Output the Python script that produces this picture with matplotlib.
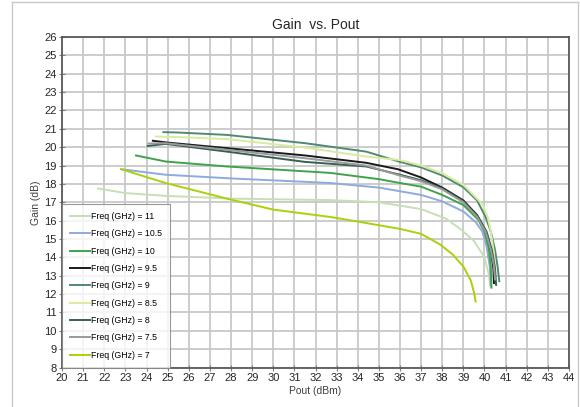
import matplotlib
matplotlib.use("Agg")
import matplotlib.pyplot as plt
from matplotlib.lines import Line2D

plt.rcParams['font.family'] = ['Liberation Sans', 'DejaVu Sans']

# Pout (dBm) / Gain (dB) for each frequency
pout_11 = [21.7, 23.0, 24.9, 28.0, 32.7, 35.0, 37.0, 38.2, 38.9, 39.5, 40.0, 40.2, 40.28]
gain_11 = [17.75, 17.5, 17.35, 17.2, 17.12, 17.0, 16.63, 16.1, 15.5, 14.9, 14.0, 13.1, 12.4]

pout_105 = [22.8, 24.9, 28.0, 32.7, 35.0, 36.0, 37.0, 38.0, 39.0, 39.6, 39.9, 40.1, 40.25, 40.3]
gain_105 = [18.8, 18.5, 18.3, 18.05, 17.8, 17.6, 17.4, 17.05, 16.5, 15.9, 15.4, 14.6, 13.5, 12.5]

pout_10 = [23.5, 24.9, 27.8, 32.7, 35.0, 36.0, 37.0, 38.0, 39.0, 39.7, 40.0, 40.2, 40.3, 40.33]
gain_10 = [19.55, 19.22, 18.95, 18.6, 18.26, 18.05, 17.85, 17.4, 16.85, 16.05, 15.4, 14.5, 13.5, 12.35]

pout_95 = [24.3, 25.0, 27.8, 31.5, 34.4, 35.9, 37.0, 38.0, 39.0, 39.65, 40.05, 40.3, 40.42, 40.45]
gain_95 = [20.35, 20.25, 19.95, 19.55, 19.15, 18.8, 18.35, 17.8, 17.1, 16.3, 15.45, 14.4, 13.4, 12.6]

pout_9 = [24.8, 25.5, 27.8, 31.5, 34.4, 36.0, 37.0, 38.0, 39.0, 39.65, 40.05, 40.3, 40.5, 40.62, 40.7]
gain_9 = [20.82, 20.8, 20.67, 20.22, 19.76, 19.2, 18.9, 18.46, 17.82, 17.1, 16.2, 15.4, 14.4, 13.5, 12.7]

pout_85 = [24.45, 25.5, 27.8, 31.5, 34.4, 36.0, 37.0, 38.0, 39.0, 39.55, 39.9, 40.15, 40.3, 40.45, 40.5]
gain_85 = [20.58, 20.55, 20.44, 19.98, 19.49, 19.3, 19.0, 18.58, 17.95, 17.3, 16.9, 16.2, 15.4, 14.2, 13.0]

pout_8 = [24.06, 24.9, 27.8, 31.5, 34.4, 36.0, 37.0, 38.0, 39.0, 39.7, 40.1, 40.35, 40.5, 40.55]
gain_8 = [20.07, 20.18, 19.76, 19.2, 18.95, 18.5, 18.2, 17.75, 17.05, 16.2, 15.4, 14.4, 13.4, 12.5]

pout_75 = [24.1, 24.9, 27.8, 31.5, 34.4, 36.0, 37.0, 38.0, 39.0, 39.65, 40.05, 40.3, 40.45, 40.5]
gain_75 = [20.2, 20.22, 19.86, 19.4, 19.0, 18.45, 18.15, 17.7, 17.0, 16.2, 15.4, 14.4, 13.5, 12.8]

pout_7 = [22.8, 24.9, 27.8, 30.0, 32.7, 34.0, 36.0, 37.0, 37.9, 38.5, 39.0, 39.35, 39.5, 39.58]
gain_7 = [18.8, 18.05, 17.2, 16.6, 16.2, 15.95, 15.55, 15.28, 14.7, 14.15, 13.5, 12.75, 12.1, 11.6]

labels = ["Freq (GHz) = 11", "Freq (GHz) = 10.5", "Freq (GHz) = 10",
          "Freq (GHz) = 9.5", "Freq (GHz) = 9", "Freq (GHz) = 8.5",
          "Freq (GHz) = 8", "Freq (GHz) = 7.5", "Freq (GHz) = 7"]
colors = ["#c5e0b4", "#8faadc", "#3fa34d", "#1a1a1a", "#4f8a72",
          "#d9ec9c", "#385f55", "#9a9a9a", "#a8d20a"]

xs = [pout_11, pout_105, pout_10, pout_95, pout_9, pout_85, pout_8, pout_75, pout_7]
ys = [gain_11, gain_105, gain_10, gain_95, gain_9, gain_85, gain_8, gain_75, gain_7]

fig = plt.figure(figsize=(5.8, 4.07), dpi=100)
ax = fig.add_axes([0.107, 0.097, 0.874, 0.812])

for x, y, c, lab in zip(xs, ys, colors, labels):
    ax.plot(x, y, color=c, lw=1.4, label=lab, solid_joinstyle="round")

ax.set_xlim(20, 44)
ax.set_ylim(8, 26)
ax.set_xticks(range(20, 45))
ax.set_yticks(range(8, 27))
ax.grid(True, color="#c8c8c8", lw=1.3)
ax.set_axisbelow(True)
ax.tick_params(direction="inout", length=4, width=0.8, color="#808080",
               labelsize=8, labelcolor="#262626", pad=2)
for s in ax.spines.values():
    s.set_color("#595959")
    s.set_linewidth(1.3)

ax.set_title("Gain  vs. Pout", fontsize=10, color="#262626", pad=6)
ax.set_xlabel("Pout (dBm)", fontsize=7.5, color="#404040", labelpad=2)
ax.set_ylabel("Gain (dB)", fontsize=7.5, color="#404040", labelpad=2)

leg = ax.legend(loc="lower left", fontsize=6.3, frameon=True, fancybox=False,
                borderaxespad=0, handlelength=2.3, handletextpad=0.1,
                labelspacing=0.95, borderpad=0.9)
leg.get_frame().set_edgecolor("#808080")
leg.get_frame().set_linewidth(0.8)

# light outer border of the chart area
bc = "#c8c8c8"
fig.add_artist(Line2D([12/580, 12/580], [0, 1 - 2/407], color=bc, lw=1, transform=fig.transFigure))
fig.add_artist(Line2D([12/580, 578/580], [1 - 2/407, 1 - 2/407], color=bc, lw=1, transform=fig.transFigure))
fig.add_artist(Line2D([578/580, 578/580], [0, 1 - 2/407], color=bc, lw=1, transform=fig.transFigure))

fig.savefig("out.png", dpi=100)
